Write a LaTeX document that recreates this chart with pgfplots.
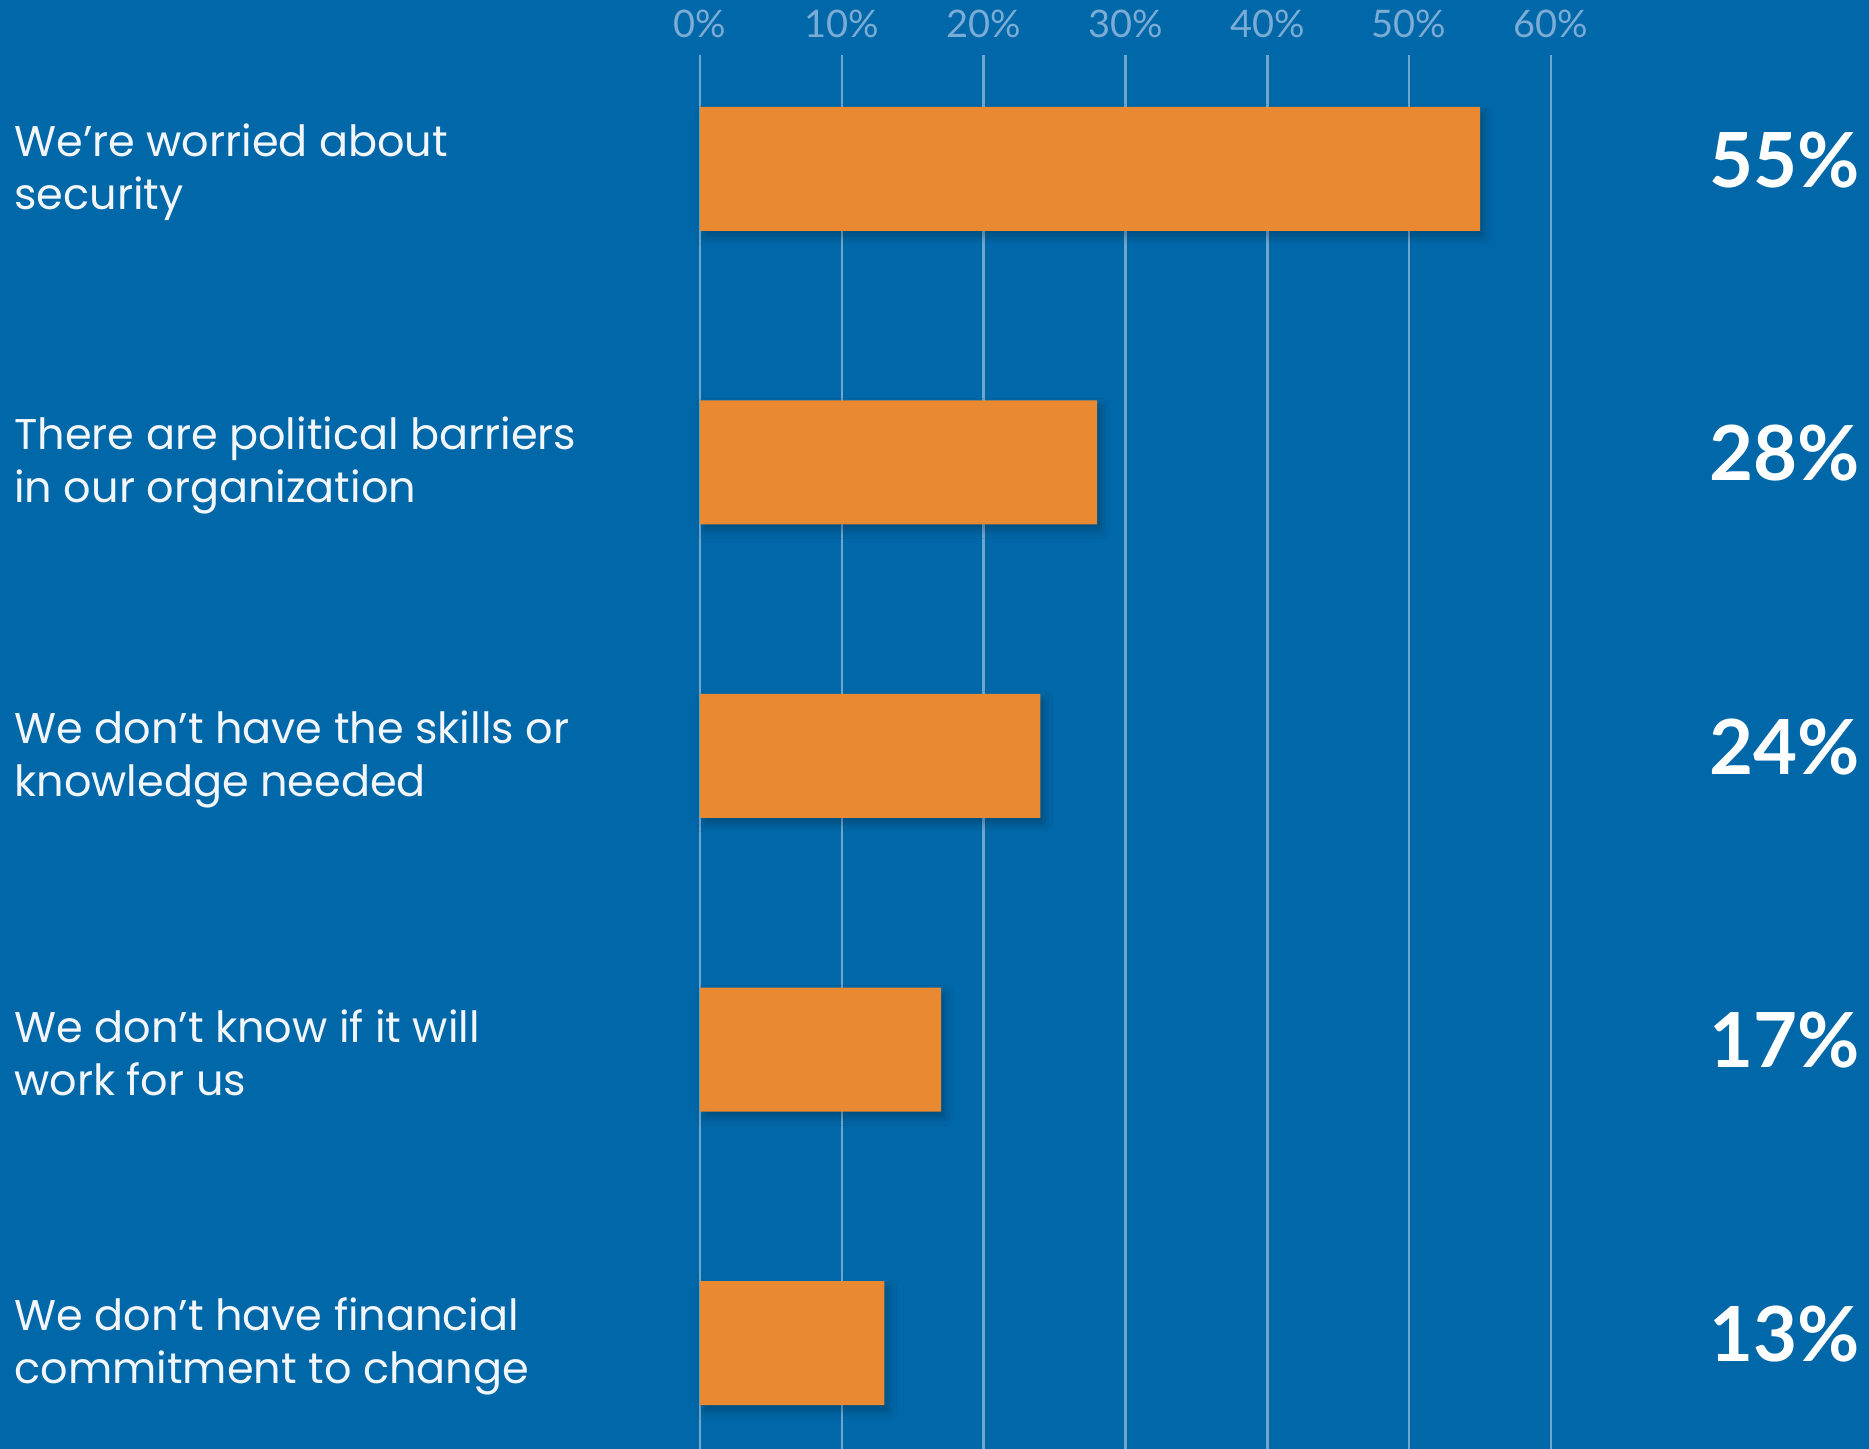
\documentclass[border=0pt]{standalone}
\usepackage{pgfplots}
\pgfplotsset{compat=1.18}
\usepackage{pgfplotstable}
\usepackage{fontspec}
\usetikzlibrary{shadows.blur}
\setmainfont{Lato}
\newfontfamily\catfont{Poppins}

\definecolor{bgblue}{RGB}{0,104,168}
\definecolor{barorange}{RGB}{233,138,51}
\definecolor{gridblue}{RGB}{112,166,206}
\definecolor{tickblue}{RGB}{122,172,213}
\definecolor{labelwhite}{RGB}{242,246,250}

% idx: row from the top, val: share of respondents (%)
\pgfplotstableread{
idx val
0   55
1   28
2   24
3   17
4   13
}\reasons

\begin{document}
\begin{tikzpicture}
  \fill[bgblue] (0,0) rectangle (934.5pt,724.5pt);
  \useasboundingbox (0,0) rectangle (934.5pt,724.5pt);
  \begin{axis}[
    at={(350pt,0pt)}, anchor=south west,
    scale only axis, width=425.5pt, height=697pt,
    xmin=0, xmax=60, ymin=-0.388, ymax=4.361,
    y dir=reverse,
    clip=false,
    axis line style={draw=none},
    major tick length=0pt,
    xtick={0,10,...,60},
    xticklabel pos=upper,
    xticklabel={\pgfmathprintnumber{\tick}\%},
    /pgf/number format/assume math mode=true,
    xticklabel style={font=\fontsize{19}{22}\selectfont, text=tickblue, yshift=5pt},
    xmajorgrids,
    grid style={draw=gridblue, line width=1.3pt},
    ytick={0,...,4},
    yticklabels={
      We’re worried about\\security,
      There are political barriers\\in our organization,
      We don’t have the skills or\\knowledge needed,
      We don’t know if it will\\work for us,
      We don’t have financial\\commitment to change},
    yticklabel style={anchor=west, align=left, inner sep=0pt, xshift=-343pt,
      yshift=-1.5pt,
      font=\catfont\fontsize{21.5}{26.5}\selectfont, text=labelwhite},
  ]
    \addplot[xbar, bar width=62pt, fill=barorange, draw=none,
      blur shadow={shadow xshift=2pt, shadow yshift=-3pt,
        shadow blur radius=4pt, shadow opacity=25}]
      table[x=val, y=idx] {\reasons};
    % value labels in a column at the right edge
    \addplot[only marks, mark=none, point meta=explicit,
      nodes near coords={\pgfmathprintnumber{\pgfplotspointmeta}\%},
      every node near coord/.append style={anchor=east, inner sep=0pt,
        yshift=4.5pt, text=white,
        font=\fontsize{38}{40}\selectfont\bfseries}]
      table[x expr=81.8, y=idx, meta=val] {\reasons};
  \end{axis}
\end{tikzpicture}
\end{document}
